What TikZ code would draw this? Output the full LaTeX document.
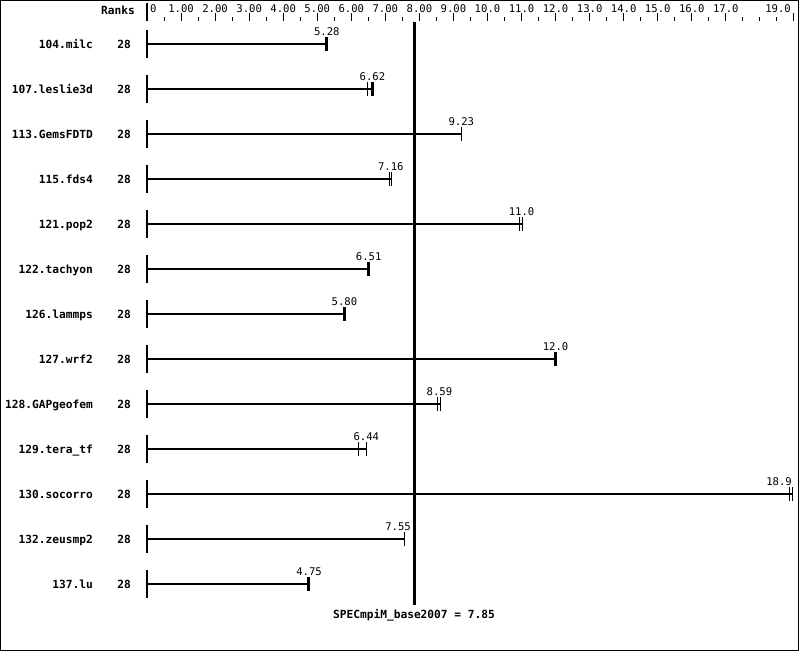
\documentclass[tikz,border=0pt]{standalone}
\usepackage{fontspec}
\setmonofont{DejaVu Sans Mono}
\begin{document}
\begin{tikzpicture}[x=1pt,y=-1pt,
  lbl/.style={font=\ttfamily\bfseries\fontsize{11.2}{13}\selectfont, inner sep=0pt, text height=8pt, text depth=0pt},
  num/.style={font=\ttfamily\fontsize{10.6}{12}\selectfont, inner sep=0pt, text height=7.5pt, text depth=0pt},
  barline/.style={line width=2.6pt},
  thintick/.style={line width=1.1pt},
  thicktick/.style={line width=2.6pt},
  axisline/.style={line width=1.2pt},
  majortick/.style={line width=1pt},
  minortick/.style={line width=1pt}]
\useasboundingbox (0,0) rectangle (799,651);
\draw[line width=1pt] (0.5,0.5) rectangle (798.5,650.5);
% header
\node[lbl, anchor=east] (ranks) at (135,10.5) {Ranks};
\coordinate (axtop) at (147,3);
\coordinate (axbot) at (147,21);
\draw[axisline] (axtop) -- (axbot);
\node[num, anchor=west] (l0) at (150,9) {0};
\foreach \k/\t in {1/1.00,2/2.00,3/3.00,4/4.00,5/5.00,6/6.00,7/7.00,8/8.00,9/9.00,10/10.0,11/11.0,12/12.0,13/13.0,14/14.0,15/15.0,16/16.0,17/17.0}{
  \node[num] (l\k) at (147+34.05*\k,9) {\t};
  \draw[majortick] (147+34.05*\k,13) -- (147+34.05*\k,21);
}
\node[num, anchor=east] (l19) at (791,9) {19.0};
\draw[majortick] (793.5,13) -- (793.5,21);
\foreach \k in {0,...,18}{
  \draw[minortick] (147+34.05*\k+17.02,17) -- (147+34.05*\k+17.02,21);
}
\draw[minortick] (147+34.05*18,17) -- (147+34.05*18,21);
% rows
\foreach \i/\nm/\v/\txt in {0/104.milc/5.28/5.28,1/107.leslie3d/6.62/6.62,2/113.GemsFDTD/9.23/9.23,3/115.fds4/7.18/7.16,4/121.pop2/11.02/11.0,5/122.tachyon/6.51/6.51,6/126.lammps/5.80/5.80,7/127.wrf2/12.0/12.0,8/128.GAPgeofem/8.61/8.59,9/129.tera\_tf/6.44/6.44}{
  \pgfmathsetmacro\yc{44+45*\i}
  \node[lbl, anchor=east] (n\i) at (93,\yc) {\nm};
  \node[lbl] (r\i) at (124,\yc) {28};
  \coordinate (vt\i) at (147,\yc-14);
  \coordinate (vb\i) at (147,\yc+14);
  \draw[axisline] (vt\i) -- (vb\i);
  \coordinate (z\i) at (147,\yc);
  \coordinate (e\i) at (147+34.05*\v,\yc);
  \draw[barline] (z\i) -- (e\i);
  \node[num] (v\i) at (147+34.05*\txt,\yc-12) {\txt};
}
% rows with shifted value labels
\foreach \i/\nm/\v/\txt/\lx in {10/130.socorro/18.96/18.9/792,11/132.zeusmp2/7.55/7.55/411,12/137.lu/4.75/4.75/322}{
  \pgfmathsetmacro\yc{44+45*\i}
  \node[lbl, anchor=east] (n\i) at (93,\yc) {\nm};
  \node[lbl] (r\i) at (124,\yc) {28};
  \coordinate (vt\i) at (147,\yc-14);
  \coordinate (vb\i) at (147,\yc+14);
  \draw[axisline] (vt\i) -- (vb\i);
  \coordinate (z\i) at (147,\yc);
  \coordinate (e\i) at (147+34.05*\v,\yc);
  \draw[barline] (z\i) -- (e\i);
  \node[num, anchor=east] (v\i) at (\lx,\yc-12) {\txt};
}
% end ticks
\foreach \v/\i/\s in {5.28/0/thicktick, 6.47/1/thintick, 6.62/1/thicktick, 9.23/2/thintick,
  7.11/3/thintick, 7.18/3/thintick, 10.95/4/thintick, 11.02/4/thintick,
  6.51/5/thicktick, 5.80/6/thicktick, 12.0/7/thicktick, 8.52/8/thintick, 8.61/8/thintick,
  6.22/9/thintick, 6.44/9/thintick, 18.88/10/thintick, 18.96/10/thintick,
  7.55/11/thintick, 4.75/12/thicktick}{
  \pgfmathsetmacro\yc{44+45*\i}
  \draw[\s] (147+34.05*\v,\yc-7) -- (147+34.05*\v,\yc+7);
}
% mean line
\coordinate (mtop) at (414.3,22);
\coordinate (mbot) at (414.3,605);
\draw[barline] (mtop) -- (mbot);
\node[lbl] (score) at (414,614) {SPECmpiM\_base2007 = 7.85};
\end{tikzpicture}
\end{document}
